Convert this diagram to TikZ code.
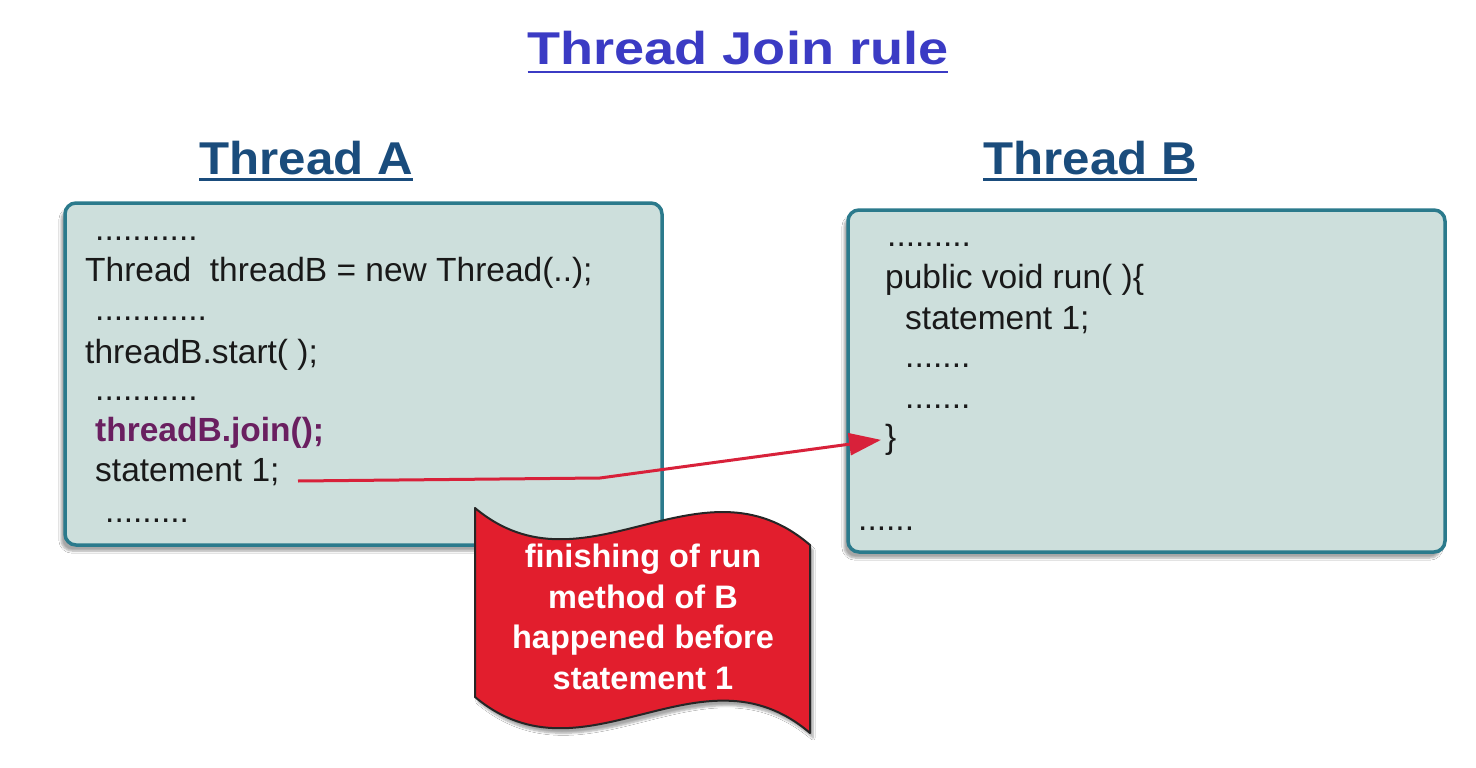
\documentclass[tikz,border=0pt]{standalone}
\usepackage{fontspec}
\setmainfont{Liberation Sans}
\usetikzlibrary{arrows.meta,shadows.blur,calc}
\definecolor{boxfill}{HTML}{CDDFDC}
\definecolor{boxline}{HTML}{2B7A8C}
\definecolor{titleblue}{HTML}{3B3BC4}
\definecolor{headblue}{HTML}{1A4C7C}
\definecolor{joinpurple}{HTML}{6A1F60}
\definecolor{arrowred}{HTML}{D8213A}
\definecolor{bannerred}{HTML}{E21E2D}
\begin{document}
\begin{tikzpicture}[x=1pt,y=-1pt,
  threadbox/.style={draw=boxline, fill=boxfill, line width=3.5pt, rounded corners=11pt,
    minimum width=597pt, minimum height=342pt, inner sep=0pt,
    blur shadow={shadow xshift=-4pt, shadow yshift=-6pt, shadow blur steps=6, shadow opacity=35}},
  code/.style={anchor=base west, inner sep=0pt, font=\fontsize{33.5}{40}\selectfont, text=black!90},
  joincode/.style={code, font=\fontsize{33.5}{40}\selectfont\bfseries, text=joinpurple},
  head/.style={anchor=base, inner sep=0pt, font=\fontsize{46}{52}\selectfont\bfseries, text=headblue},
  headline/.style={headblue, line width=3pt},
  titlestyle/.style={anchor=base, inner sep=0pt, font=\fontsize{46}{52}\selectfont\bfseries, text=titleblue},
  banner/.style={fill=bannerred, draw=black!85, line width=2pt, line join=round,
    blur shadow={shadow xshift=3pt, shadow yshift=-5pt, shadow blur steps=6, shadow opacity=35}},
  bannertext/.style={align=center, text=white, inner sep=0pt,
    font=\fontsize{32.5}{40.5}\selectfont\bfseries},
  link/.style={arrowred, line width=3pt, line join=round,
    -{Triangle[length=32pt,width=22pt]}, shorten >=4pt}
]
\useasboundingbox[fill=white] (0,0) rectangle (1476,768);

% title
\node[titlestyle] (title) at (738,65) {\scalebox{1.175}[1]{Thread Join rule}};
\draw[titleblue, line width=2.5pt] ($(title.base west)+(0,7)$) -- ($(title.base east)+(0,7)$);

% headings
\node[head] (hA) at (306,174) {\scalebox{1.07}[1]{Thread A}};
\draw[headline] ($(hA.base west)+(0,5)$) -- ($(hA.base east)+(0,5)$);
\node[head] (hB) at (1090,174) {\scalebox{1.07}[1]{Thread B}};
\draw[headline] ($(hB.base west)+(0,5)$) -- ($(hB.base east)+(0,5)$);

% boxes
\node[threadbox] (boxA) at (363.5,374) {};
\node[threadbox] (boxB) at (1146.5,381) {};

% thread A code
\node[code] (a1) at (95,240) {...........};
\node[code] (a2) at (85,281) {Thread\ \ threadB = new Thread(..);};
\node[code] (a3) at (95,320) {............};
\node[code] (a4) at (85,363) {threadB.start( );};
\node[code] (a5) at (95,400) {...........};
\node[joincode] (a6) at (95,441) {threadB.join();};
\node[code] (a7) at (95,481) {statement 1;};
\node[code] (a8) at (105,522) {.........};

% thread B code
\node[code] (b1) at (887,246) {.........};
\node[code] (b2) at (885,288) {public void run( )\{};
\node[code] (b3) at (905,329) {statement 1;};
\node[code] (b4) at (905,367) {.......};
\node[code] (b5) at (905,408) {.......};
\node[code] (brace) at (885,448) {\}};
\node[code] (b7) at (858,530) {......};

% arrow
\coordinate (arrS) at (298,481);
\coordinate (arrM) at (600,478);
\draw[link] (arrS) -- (arrM) -- (brace.west);

% banner
\draw[banner] (475,508) .. controls (585,600) and (700,450) .. (810,545)
  -- (810,733) .. controls (700,639) and (585,789) .. (475,697) -- cycle;
\node[bannertext] (note) at (643,617) {finishing of run\\method of B\\happened before\\statement 1};
\end{tikzpicture}
\end{document}
